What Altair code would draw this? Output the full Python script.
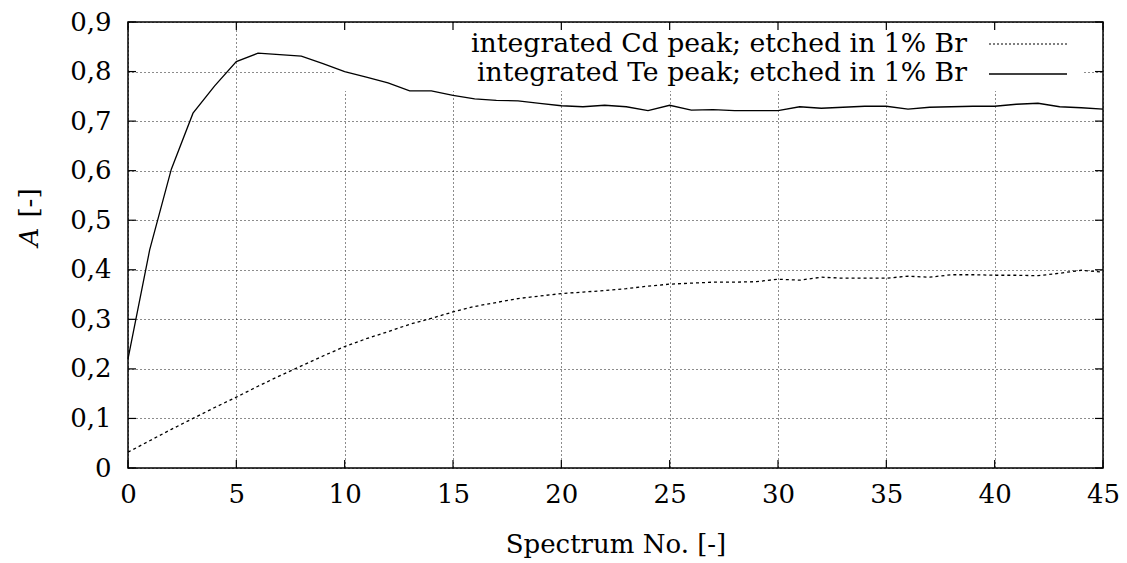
import altair as alt
import pandas as pd

spectrum = list(range(46))
cd_peak = [0.032, 0.055, 0.078, 0.100, 0.122, 0.143, 0.165, 0.186, 0.206, 0.226,
           0.245, 0.261, 0.275, 0.290, 0.302, 0.315, 0.326, 0.334, 0.342, 0.347,
           0.352, 0.355, 0.358, 0.362, 0.367, 0.371, 0.373, 0.375, 0.375, 0.376,
           0.381, 0.379, 0.385, 0.383, 0.383, 0.383, 0.387, 0.385, 0.390, 0.390,
           0.389, 0.389, 0.388, 0.393, 0.399, 0.395]
te_peak = [0.220, 0.440, 0.603, 0.716, 0.771, 0.820, 0.837, 0.834, 0.831, 0.816,
           0.800, 0.789, 0.777, 0.761, 0.761, 0.752, 0.745, 0.742, 0.741, 0.736,
           0.731, 0.729, 0.732, 0.729, 0.721, 0.732, 0.722, 0.723, 0.721, 0.721,
           0.721, 0.729, 0.726, 0.728, 0.730, 0.730, 0.724, 0.728, 0.729, 0.730,
           0.730, 0.734, 0.736, 0.729, 0.727, 0.724]
x_ticks = [0, 5, 10, 15, 20, 25, 30, 35, 40, 45]
y_ticks = [0, 0.1, 0.2, 0.3, 0.4, 0.5, 0.6, 0.7, 0.8, 0.9]
legend_labels = ["integrated Cd peak; etched in 1% Br", "integrated Te peak; etched in 1% Br"]

W, H = 975, 446
FONT = "DejaVu Serif"
FS = 26
LFS = 26.7

df = pd.DataFrame({"x": spectrum, "cd": cd_peak, "te": te_peak})
xt = pd.DataFrame({"x": x_ticks})
yt = pd.DataFrame({"y": y_ticks})

xscale = alt.Scale(domain=[0, 45], nice=False, zero=False)
yscale = alt.Scale(domain=[0, 0.9], nice=False, zero=False)

base = alt.Chart(df)

axes = base.mark_line(opacity=0).encode(
    x=alt.X("x:Q", scale=xscale,
            axis=alt.Axis(values=x_ticks, title="Spectrum No. [-]", ticks=False, domain=False,
                          labelPadding=13, titlePadding=24, gridDash=[1, 3], gridColor="#000",
                          gridOpacity=0.9, labelFont=FONT, labelFontSize=FS, titleFont=FONT,
                          titleFontSize=FS, titleFontWeight="normal", labelColor="#000",
                          titleColor="#000", labelFlush=False)),
    y=alt.Y("cd:Q", scale=yscale,
            axis=alt.Axis(values=y_ticks, title=None, ticks=False, domain=False, labelPadding=17,
                          gridDash=[1, 3], gridColor="#000", gridOpacity=0.9,
                          labelFont=FONT, labelFontSize=FS, labelColor="#000", labelFlush=False,
                          labelExpr="datum.value == 0 ? '0' : replace(format(datum.value, '.1f'), '.', ',')")),
)

keybox = alt.Chart(pd.DataFrame({"k": [0]})).mark_rect(color="white").encode(
    x=alt.value(208), x2=alt.value(956), y=alt.value(1), y2=alt.value(69)
)

cd_line = base.mark_line(color="black", strokeWidth=1.3, strokeDash=[3, 3]).encode(
    x=alt.X("x:Q", scale=xscale), y=alt.Y("cd:Q", scale=yscale))
te_line = base.mark_line(color="black", strokeWidth=1.3).encode(
    x=alt.X("x:Q", scale=xscale), y=alt.Y("te:Q", scale=yscale))

leg_text = alt.Chart(pd.DataFrame({"label": [legend_labels[0]]})).mark_text(
    align="right", baseline="middle", font=FONT, fontSize=LFS, color="black"
).encode(text="label:N", x=alt.value(839), y=alt.value(22))
leg_text2 = alt.Chart(pd.DataFrame({"label": [legend_labels[1]]})).mark_text(
    align="right", baseline="middle", font=FONT, fontSize=LFS, color="black"
).encode(text="label:N", x=alt.value(839), y=alt.value(51))
leg_line1 = alt.Chart(pd.DataFrame({"k": [0]})).mark_rule(
    color="black", strokeWidth=1.2, strokeDash=[2, 2]).encode(
    x=alt.value(861), x2=alt.value(939), y=alt.value(22))
leg_line2 = alt.Chart(pd.DataFrame({"k": [0]})).mark_rule(
    color="black", strokeWidth=1.3).encode(
    x=alt.value(861), x2=alt.value(939), y=alt.value(52))

tick_b = alt.Chart(xt).mark_rule(color="black", strokeWidth=1.2).encode(
    x=alt.X("x:Q", scale=xscale), y=alt.value(H), y2=alt.value(H - 8))
tick_t = alt.Chart(xt).mark_rule(color="black", strokeWidth=1.2).encode(
    x=alt.X("x:Q", scale=xscale), y=alt.value(0), y2=alt.value(8))
tick_l = alt.Chart(yt).mark_rule(color="black", strokeWidth=1.2).encode(
    y=alt.Y("y:Q", scale=yscale), x=alt.value(0), x2=alt.value(8))
tick_r = alt.Chart(yt).mark_rule(color="black", strokeWidth=1.2).encode(
    y=alt.Y("y:Q", scale=yscale), x=alt.value(W - 8), x2=alt.value(W))

ytitle_a = alt.Chart(pd.DataFrame({"t": ["A"]})).mark_text(
    angle=270, font=FONT, fontSize=FS, fontStyle="italic", color="black",
    align="center", baseline="middle").encode(text="t:N", x=alt.value(-98), y=alt.value(215))
ytitle_b = alt.Chart(pd.DataFrame({"t": ["[-]"]})).mark_text(
    angle=270, font=FONT, fontSize=FS, color="black",
    align="center", baseline="middle").encode(text="t:N", x=alt.value(-98), y=alt.value(181))

chart = alt.layer(
    axes, keybox, cd_line, te_line, leg_text, leg_text2, leg_line1, leg_line2,
    tick_b, tick_t, tick_l, tick_r, ytitle_a, ytitle_b
).properties(
    width=W, height=H,
    padding={"left": 128, "top": 22, "right": 24, "bottom": 95},
    autosize=alt.AutoSizeParams(type="none"),
    background="white",
).configure_view(stroke="black", strokeWidth=1.5)

chart.save("out.html", embed_options={"renderer": "svg", "actions": False})
